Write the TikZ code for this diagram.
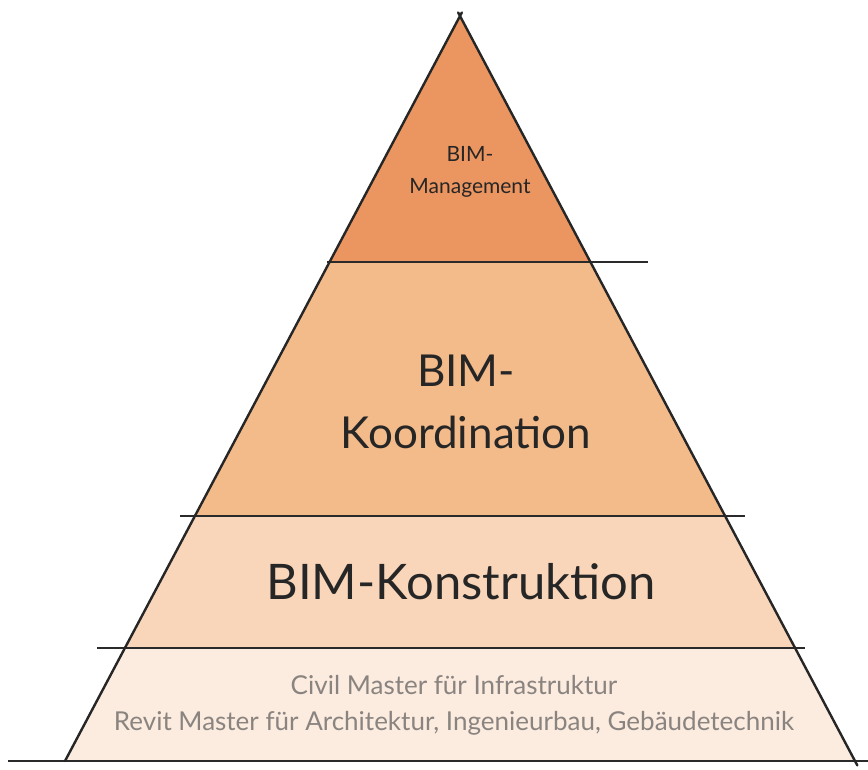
\documentclass[tikz,border=0pt]{standalone}
\usepackage{fontspec}
\setmainfont{Lato}
\definecolor{bandA}{HTML}{EB9560}
\definecolor{bandB}{HTML}{F3BA8A}
\definecolor{bandC}{HTML}{F9D6BA}
\definecolor{bandD}{HTML}{FCEBDF}
\definecolor{softtext}{HTML}{8A8480}
\definecolor{rule}{HTML}{2A2A2A}
\tikzset{
  sep/.style={draw=rule, line width=2.2pt},
  side/.style={draw=black!85, line width=2.4pt, line cap=round},
  label/.style={align=center, text=black!85, inner sep=0pt},
}
\begin{document}
\begin{tikzpicture}[x=1pt,y=-1pt]
\useasboundingbox (0,0) rectangle (868,769);
\coordinate (A) at (460,16);
\coordinate (L) at (65,761);
\coordinate (R) at (855,761);
\begin{scope}
\clip (A) -- (L) -- (R) -- cycle;
\fill[bandA] (0,0) rectangle (868,262);
\fill[bandB] (0,262) rectangle (868,516);
\fill[bandC] (0,516) rectangle (868,648);
\fill[bandD] (0,648) rectangle (868,761);
\end{scope}
\coordinate (s1a) at (327,262); \coordinate (s1b) at (648,262);
\coordinate (s2a) at (180,516); \coordinate (s2b) at (745,516);
\coordinate (s3a) at (97,648); \coordinate (s3b) at (805,648);
\coordinate (s4a) at (8,761); \coordinate (s4b) at (868,761);
\draw[sep] (s1a) -- (s1b);
\draw[sep] (s2a) -- (s2b);
\draw[sep] (s3a) -- (s3b);
\draw[sep] (s4a) -- (s4b);
\draw[side, shorten <=-4pt] (A) -- (L);
\draw[side, shorten <=-4pt, shorten >=-5pt] (A) -- (R);
\node[label, font=\fontsize{21}{32}\selectfont] (mgmt) at (470,172) {BIM-\\Management};
\node[label, font=\fontsize{44}{62}\selectfont] (koord) at (466,402) {BIM-\\Koordination};
\node[label, font=\fontsize{49}{55}\selectfont] (konst) at (461,582) {BIM-Konstruktion};
\node[label, text=softtext, font=\fontsize{26}{36}\selectfont] (master) at (454,705) {Civil Master für Infrastruktur\\Revit Master für Architektur, Ingenieurbau, Gebäudetechnik};
\end{tikzpicture}
\end{document}
